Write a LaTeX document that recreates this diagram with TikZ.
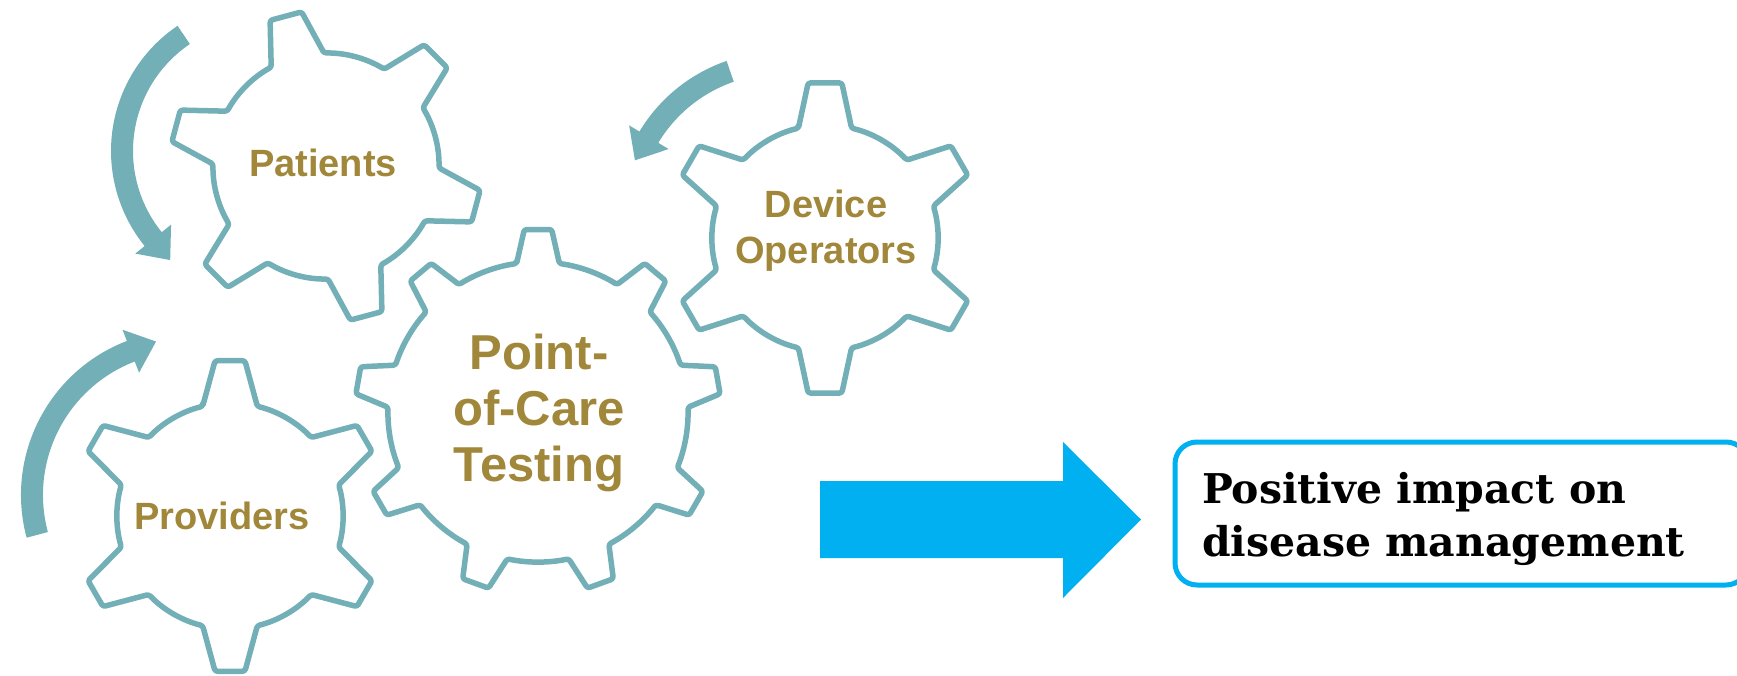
\documentclass[tikz,border=0pt]{standalone}
\usepackage{fontspec}
\setmainfont{Liberation Sans}
\newfontfamily\serifbox{DejaVu Serif}
\definecolor{gearteal}{HTML}{72AFB7}
\definecolor{labelgold}{HTML}{A1873A}
\definecolor{boxblue}{HTML}{00B0F0}

\tikzset{
  gearline/.style={draw=gearteal, line width=5.5pt, line join=round, rounded corners=2.5pt},
  gearlabel/.style={text=labelgold, font=\bfseries\fontsize{38}{46}\selectfont, align=center, inner sep=0pt},
  biglabel/.style={text=labelgold, font=\bfseries\fontsize{49}{56}\selectfont, align=center, inner sep=0pt},
  turnfill/.style={fill=gearteal},
}

% gear outline: centre x, centre y, teeth, first tooth angle,
% tip radius, root radius, half angle at tip, half angle at root
\newcommand\gearoutline[8]{%
  \begin{scope}[shift={(#1,#2)}]
    \draw[gearline] ({#4+#8}:{#6})
      \foreach \k in {1,...,#3}{
        arc[start angle={#4+(\k-1)*360/#3+#8}, end angle={#4+\k*360/#3-#8}, radius=#6]
        -- ({#4+\k*360/#3-#7}:{#5}) -- ({#4+\k*360/#3+#7}:{#5})
        -- ({#4+\k*360/#3+#8}:{#6})
      } -- cycle;
  \end{scope}}

% curved block arrow: centre x, centre y, mid radius, start angle,
% end angle, +90 (counter-clockwise) or -90 (clockwise)
\newcommand\turnarrow[6]{%
  \begin{scope}[shift={(#1,#2)}]
    \fill[turnfill] ({#4}:{#3+11}) arc[start angle=#4, end angle=#5, radius=#3+11]
      -- ({#5}:{#3+23})
      -- ({#3*cos(#5)+27*cos(#5+(#6))},{#3*sin(#5)+27*sin(#5+(#6))})
      -- ({#5}:{#3-23}) -- ({#5}:{#3-11})
      arc[start angle=#5, end angle=#4, radius=#3-11] -- cycle;
  \end{scope}}

\begin{document}
\begin{tikzpicture}[x=1pt, y=1pt]
  \useasboundingbox (0,0) rectangle (1737,-676);

  % the four gears
  \gearoutline{326}{-166}{6}{105}{156}{113}{6}{14}
  \gearoutline{538}{-412}{9}{90}{183}{150}{4.3}{8.2}
  \gearoutline{230}{-516}{6}{90}{156}{113}{5.5}{14}
  \gearoutline{825}{-238}{6}{90}{156}{113}{6.2}{13.6}

  % gear labels
  \node[gearlabel] (patients) at (323,-163.4) {Patients};
  \node[gearlabel] (providers) at (222,-516.4) {Providers};
  \node[gearlabel] (operators) at (826,-230.4) {Device\\Operators};
  \node[biglabel] (poc) at (539,-412.8) {Point-\\of-Care\\Testing};

  % turning arrows
  \turnarrow{262}{-151}{140}{124}{219}{90}
  \turnarrow{186}{-495}{154}{195}{111}{-90}
  \turnarrow{780}{-216}{153}{109}{149}{90}

  % block arrow towards the outcome
  \fill[boxblue] (820,-481) -- (1063,-481) -- (1063,-442) -- (1141,-519.5)
    -- (1063,-598) -- (1063,-558) -- (820,-558) -- cycle;

  % outcome box
  \node[draw=boxblue, line width=5pt, rounded corners=22pt, minimum width=573pt,
        minimum height=143pt, inner sep=0pt, outer sep=0pt, anchor=north west]
        (impactbox) at (1175,-442) {};
  \node[anchor=west, align=left, inner sep=0pt,
        font=\serifbox\bfseries\fontsize{41}{53}\selectfont]
        (impacttext) at (1202,-519.4) {Positive impact on\\disease management};
\end{tikzpicture}
\end{document}
